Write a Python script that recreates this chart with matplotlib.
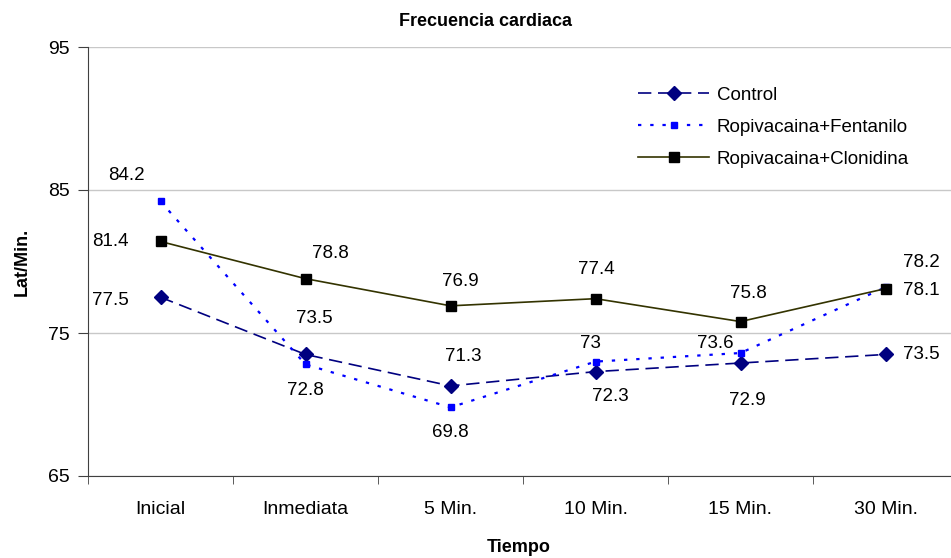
import numpy as np
import matplotlib.pyplot as plt

plt.rcParams['font.family'] = ['Liberation Sans', 'DejaVu Sans']

tiempos = ['Inicial', 'Inmediata', '5 Min.', '10 Min.', '15 Min.', '30 Min.']
control = [77.5, 73.5, 71.3, 72.3, 72.9, 73.5]
fentanilo = [84.2, 72.8, 69.8, 73.0, 73.6, 78.2]
clonidina = [81.4, 78.8, 76.9, 77.4, 75.8, 78.1]

# desplazamiento (px) de cada etiqueta respecto a su punto
off_control = [(-50, -3), (9, 36), (13, 29), (15, -25), (7, -37), (36, 0)]
off_fenta = [(-34, 26), (0, -26), (0, -25), (-5, 18), (-25, 10), (36, 25)]
off_cloni = [(-50, 0), (25, 25), (10, 24), (1, 29), (8, 28), (36, -2)]

fig = plt.figure(figsize=(9.51, 5.58), dpi=100)
ax = fig.add_axes([88 / 951, 82 / 558, 870 / 951, 429 / 558])

x = np.arange(len(tiempos))
ax.plot(x, control, color='#000080', linestyle=(0, (8, 4)), linewidth=1.2,
        marker='D', markersize=7, label='Control')
ax.plot(x, fentanilo, color='#0000ff', linestyle=(0, (1.5, 4)), linewidth=1.6,
        marker='s', markersize=5, label='Ropivacaina+Fentanilo')
ax.plot(x, clonidina, color='#333300', linestyle='-', linewidth=1.2,
        marker='s', markersize=7, markerfacecolor='black', markeredgecolor='black',
        label='Ropivacaina+Clonidina')

for serie, offs in [(control, off_control), (fentanilo, off_fenta), (clonidina, off_cloni)]:
    for xi, v, (dx, dy) in zip(x, serie, offs):
        ax.annotate(f'{v:g}', (xi, v), xytext=(dx, dy), textcoords='offset pixels',
                    ha='center', va='center', fontsize=13.5)

ax.set_xlim(-0.5, len(tiempos) - 0.5)
ax.set_ylim(65, 95)
ax.set_yticks([65, 75, 85, 95])
ax.set_xticks(x)
ax.set_xticklabels(tiempos)
ax.set_xticks(np.arange(-0.5, len(tiempos)), minor=True)
ax.tick_params(axis='x', which='major', length=0, pad=18, labelsize=14)
ax.tick_params(axis='x', which='minor', length=6, direction='out', color='#404040')
ax.tick_params(axis='y', length=7, direction='out', color='#404040', labelsize=14, pad=6)

ax.grid(axis='y', color='#c8c8c8', linewidth=1)
ax.set_axisbelow(True)
for s in ['top', 'right']:
    ax.spines[s].set_visible(False)
for s in ['left', 'bottom']:
    ax.spines[s].set_color('#404040')

fig.text(485 / 951, 1 - 21 / 558, 'Frecuencia cardiaca', ha='center', va='center',
         fontsize=13, fontweight='bold')
fig.text(519 / 951, 1 - 548 / 558, 'Tiempo', ha='center', va='center',
         fontsize=13, fontweight='bold')
fig.text(22 / 951, 1 - 262 / 558, 'Lat/Min.', ha='center', va='center',
         rotation=90, fontsize=13, fontweight='bold')

fig.legend(loc='upper left', bbox_to_anchor=(621 / 951, 1 - 70 / 558), frameon=False,
           fontsize=13.5, handlelength=3.8, labelspacing=0.78, handletextpad=0.4)

fig.savefig('out.png', dpi=100)
